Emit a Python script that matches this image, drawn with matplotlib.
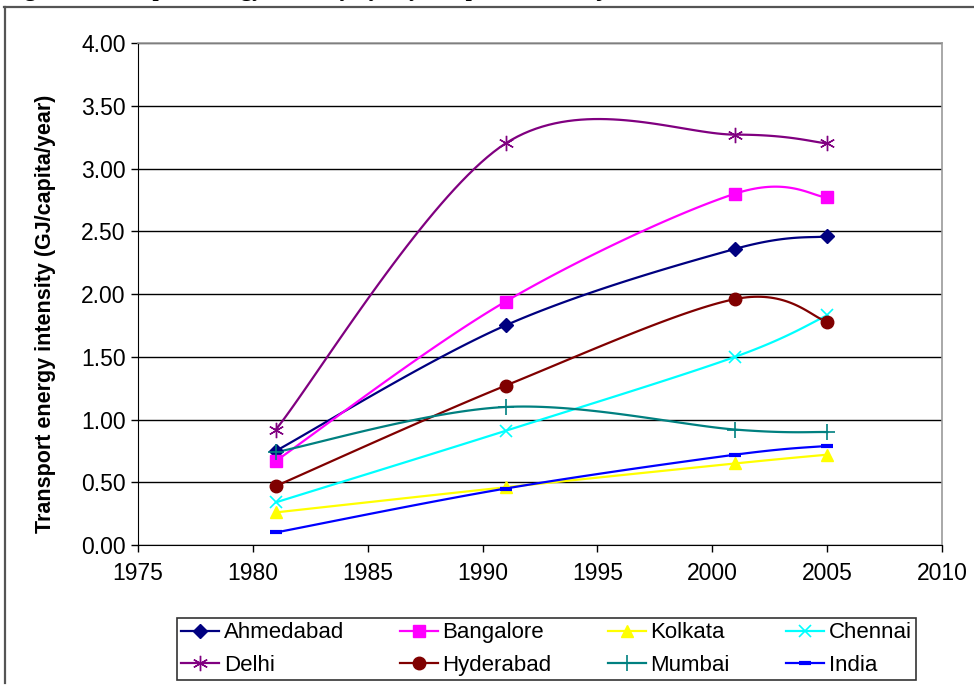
import numpy as np
import matplotlib
matplotlib.use("Agg")
from matplotlib import pyplot as plt
from matplotlib.lines import Line2D

plt.rcParams['font.family'] = ['Liberation Sans', 'DejaVu Sans']

years = [1981, 1991, 2001, 2005]
ahmedabad = [0.75, 1.75, 2.36, 2.46]
bangalore = [0.67, 1.94, 2.80, 2.77]
kolkata = [0.26, 0.46, 0.65, 0.72]
chennai = [0.34, 0.91, 1.50, 1.83]
delhi = [0.92, 3.20, 3.27, 3.20]
hyderabad = [0.47, 1.27, 1.96, 1.78]
mumbai = [0.74, 1.10, 0.92, 0.90]
india = [0.10, 0.45, 0.72, 0.79]

series = [
    ("Ahmedabad", ahmedabad, "#000080", "D", 7, 1.0),
    ("Bangalore", bangalore, "#FF00FF", "s", 9, 1.0),
    ("Kolkata", kolkata, "#FFFF00", "^", 9, 1.0),
    ("Chennai", chennai, "#00FFFF", "x", 9, 1.2),
    ("Delhi", delhi, "#800080", (6, 2, 0), 11, 1.0),
    ("Hyderabad", hyderabad, "#800000", "o", 9, 1.0),
    ("Mumbai", mumbai, "#008080", "+", 11, 1.2),
    ("India", india, "#0000FF", "_", 8, 3.0),
]


def smooth(xs, ys, n=40):
    # excel style smoothed line (bezier through the points)
    p = np.column_stack([xs, ys]).astype(float)
    p = np.vstack([p[0], p, p[-1]])
    out = []
    t = np.linspace(0, 1, n)[:, None]
    for i in range(1, len(p) - 2):
        p0, p1, p2, p3 = p[i - 1], p[i], p[i + 1], p[i + 2]
        c1 = p1 + (p2 - p0) / 6
        c2 = p2 - (p3 - p1) / 6
        seg = ((1 - t) ** 3) * p1 + 3 * ((1 - t) ** 2) * t * c1 + 3 * (1 - t) * t ** 2 * c2 + t ** 3 * p2
        out.append(seg)
    out = np.vstack(out)
    return out[:, 0], out[:, 1]


fig = plt.figure(figsize=(9.74, 6.86), dpi=100)
ax = fig.add_axes([0.1417, 0.2055, 0.8255, 0.7318])

handles = {}
for name, vals, col, mk, ms, mew in series:
    sx, sy = smooth(years, vals)
    ax.plot(sx, sy, color=col, lw=1.6, zorder=3)
    ax.plot(years, vals, ls='none', marker=mk, markersize=ms, color=col,
            markeredgecolor=col, markeredgewidth=mew, zorder=4)
    handles[name] = Line2D([], [], color=col, lw=1.6, marker=mk, markersize=ms,
                           markeredgecolor=col, markeredgewidth=mew)

ax.set_xlim(1975, 2010)
ax.set_ylim(0, 4)
ax.set_xticks(range(1975, 2011, 5))
ax.set_yticks(np.arange(0, 4.01, 0.5))
ax.set_yticklabels(["%.2f" % v for v in np.arange(0, 4.01, 0.5)])
ax.yaxis.grid(True, color='black', lw=1.0)
ax.set_axisbelow(True)
ax.tick_params(axis='y', labelsize=16.5, direction='out', length=5, width=1, pad=4)
ax.tick_params(axis='x', labelsize=16.5, direction='out', length=5, width=1, pad=7)
for s in ['top', 'right']:
    ax.spines[s].set_color('#999999')
    ax.spines[s].set_linewidth(1.2)
for s in ['left', 'bottom']:
    ax.spines[s].set_color('black')
ax.set_ylabel("Transport energy intensity (GJ/capita/year)", fontsize=15.5,
              fontweight='bold')
ax.yaxis.set_label_coords(-0.102, 0.46)

order = ["Ahmedabad", "Delhi", "Bangalore", "Hyderabad", "Kolkata", "Mumbai", "Chennai", "India"]
leg = fig.legend([handles[k] for k in order], order, ncol=4, mode='expand',
                 loc='lower left', bbox_to_anchor=(0.1817, 0.0087, 0.7587, 0.0991),
                 bbox_transform=fig.transFigure, fontsize=16, fancybox=False,
                 edgecolor='black', handlelength=1.7, handletextpad=0.2,
                 borderaxespad=0, labelspacing=0.5, borderpad=0.2)
leg.get_frame().set_linewidth(1.2)

# outer frame around the picture
fig.add_artist(Line2D([0.004, 1.0], [1 - 7 / 686, 1 - 7 / 686], color='#555555', lw=1.6,
                      transform=fig.transFigure))
fig.add_artist(Line2D([0.005, 0.005], [0.004, 1 - 7 / 686], color='#555555', lw=1.6,
                      transform=fig.transFigure))

# cut off caption above the chart, only the descenders show
fig.text(0.005, 1 + 4 / 686, "Figure 5: Transport energy intensity by city comparison of major cities",
         fontsize=16, fontweight='bold', family=['Liberation Serif', 'DejaVu Serif'],
         ha='left', va='baseline')

fig.savefig("out.png", dpi=100)
